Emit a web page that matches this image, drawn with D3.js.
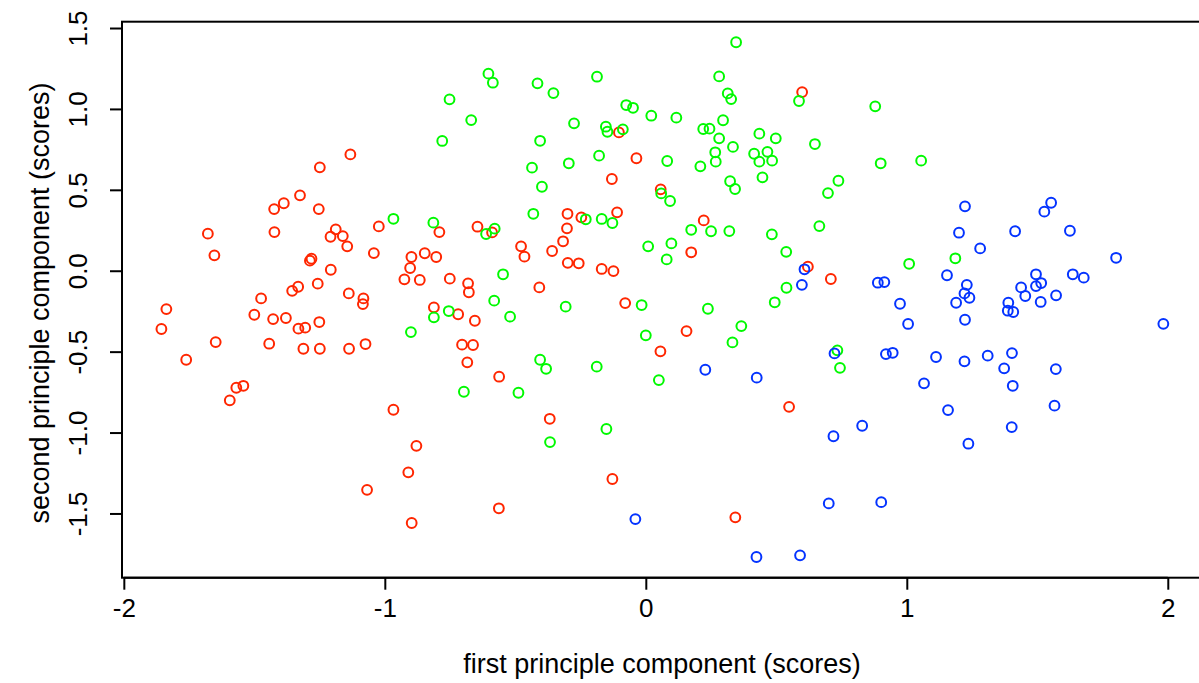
<!DOCTYPE html>
<html><head><meta charset="utf-8">
<script src="https://cdn.jsdelivr.net/npm/d3@7"></script>
<style>
html,body{margin:0;padding:0;background:#fff;}
svg{display:block;}
text{font-family:"Liberation Sans",Arial,Helvetica,sans-serif;fill:#000;}
</style></head>
<body>
<svg id="chart" width="1199" height="683"></svg>
<script>
// ---- data (first / second principal component scores) ----
const redX = [-1.132,-1.249,-1.325,-1.387,-1.424,-1.253,-1.678,-1.423,-1.023,-1.188,-1.208,-1.161,-1.144,-1.653,-1.042,-1.281,-1.287,-1.207,-1.257,-1.332,-1.355,-1.138,-1.474,-1.082,-1.084,-1.837,-1.856,-1.500,-1.428,-1.379,-1.331,-1.305,-1.251,-1.648,-1.443,-1.312,-1.249,-1.137,-1.074,-1.761,-1.569,-1.542,-1.594,-1.068,
 -0.103,-0.036,-0.130,-0.300,-0.247,-0.110,-0.791,-0.645,-0.589,-0.302,-0.317,-0.478,-0.465,-0.359,-0.299,-0.257,-0.169,-0.124,-0.898,-0.847,-0.803,-0.903,-0.925,-0.866,-0.751,-0.681,-0.678,-0.408,-0.812,-0.719,-0.655,-0.079,-0.704,-0.662,-0.684,-0.562,-0.967,-0.368,-0.879,-0.910,-0.128,-0.563,-0.897,
 0.599,0.057,0.222,0.174,0.621,0.709,0.156,0.056,0.549,0.343];
const redY = [0.719,0.639,0.466,0.417,0.381,0.381,0.229,0.239,0.274,0.256,0.210,0.214,0.151,0.095,0.109,0.074,0.062,0.006,-0.080,-0.099,-0.124,-0.140,-0.171,-0.171,-0.206,-0.237,-0.360,-0.272,-0.299,-0.292,-0.358,-0.352,-0.317,-0.441,-0.451,-0.482,-0.482,-0.482,-0.453,-0.550,-0.723,-0.711,-0.801,-1.354,
 0.855,0.695,0.567,0.352,0.330,0.361,0.239,0.272,0.237,0.262,0.182,0.151,0.087,0.122,0.049,0.046,0.011,-0.002,0.085,0.108,0.085,0.017,-0.053,-0.057,-0.049,-0.078,-0.133,-0.103,-0.226,-0.269,-0.309,-0.200,-0.457,-0.459,-0.566,-0.655,-0.859,-0.915,-1.082,-1.246,-1.287,-1.468,-1.559,
 1.104,0.503,0.311,0.114,0.025,-0.051,-0.373,-0.498,-0.841,-1.524];

const greenX = [-0.967,-0.814,-0.431,-0.579,-0.612,-0.230,-0.169,-0.128,0.009,-0.547,-0.581,-0.520,-0.307,-0.016,-0.812,-0.755,-0.900,0.000,-0.405,-0.382,-0.188,0.050,-0.697,-0.488,-0.151,-0.367,
 -0.603,-0.586,-0.752,-0.415,-0.354,-0.187,-0.669,-0.275,-0.075,-0.049,0.021,-0.780,-0.405,-0.153,-0.147,-0.088,-0.179,-0.295,-0.436,-0.398,
 0.346,0.281,0.314,0.327,0.587,0.879,0.117,0.296,0.220,0.244,0.281,0.435,0.498,0.334,0.266,0.268,0.209,0.415,0.466,0.435,0.484,0.447,0.648,0.900,1.055,0.738,0.698,0.323,0.342,0.059,0.093,0.082,
 0.174,0.250,0.320,0.483,0.665,0.098,0.080,0.538,1.009,0.539,0.494,0.238,0.366,0.332,0.734,0.744,1.186];
const greenY = [0.321,0.297,0.352,0.260,0.227,0.318,0.320,0.295,0.151,-0.022,-0.185,-0.284,-0.222,-0.212,-0.288,-0.249,-0.379,-0.399,-0.550,-0.606,-0.593,-0.676,-0.748,-0.754,-0.978,-1.059,
 1.218,1.162,1.059,1.158,1.098,1.199,0.931,0.911,1.024,1.007,0.958,0.802,0.803,0.890,0.859,0.874,0.711,0.664,0.637,0.519,
 1.412,1.201,1.096,1.061,1.049,1.016,0.946,0.930,0.876,0.878,0.818,0.847,0.818,0.765,0.732,0.674,0.645,0.723,0.735,0.674,0.680,0.577,0.783,0.664,0.680,0.556,0.480,0.553,0.505,0.478,0.431,0.678,
 0.253,0.244,0.245,0.225,0.276,0.169,0.070,0.117,0.043,-0.105,-0.195,-0.235,-0.342,-0.443,-0.492,-0.600,0.077];

const blueX = [-0.040,0.608,0.598,0.889,0.914,0.974,1.005,0.723,0.920,0.946,0.228,0.425,0.719,0.829,0.701,0.902,0.424,0.591,
 1.223,1.553,1.527,1.200,1.415,1.625,1.281,1.802,1.154,1.230,1.221,1.240,1.189,1.495,1.515,1.495,1.438,1.454,1.636,1.678,1.572,1.513,1.389,1.387,1.408,1.223,1.983,1.112,1.221,1.310,1.403,1.373,1.571,1.066,1.406,1.158,1.566,1.402,1.236];
const blueY = [-1.535,0.009,-0.087,-0.074,-0.070,-0.204,-0.329,-0.511,-0.515,-0.507,-0.612,-0.661,-1.023,-0.958,-1.438,-1.430,-1.769,-1.759,
 0.398,0.420,0.365,0.235,0.244,0.247,0.138,0.080,-0.028,-0.087,-0.140,-0.167,-0.198,-0.022,-0.076,-0.095,-0.103,-0.156,-0.022,-0.043,-0.152,-0.193,-0.198,-0.247,-0.255,-0.303,-0.328,-0.533,-0.560,-0.525,-0.509,-0.603,-0.608,-0.696,-0.711,-0.861,-0.834,-0.966,-1.069];

const xTicks = [-2, -1, 0, 1, 2];
const yTicks = [-1.5, -1.0, -0.5, 0.0, 0.5, 1.0, 1.5];
const xLabel = "first principle component (scores)";
const yLabel = "second principle component (scores)";

// ---- layout ----
const svg = d3.select("#chart");
const pL = 122, pR = 1202.5, pT = 21.7, pB = 577.7;
const x = d3.scaleLinear().domain([-2.007, 2.133]).range([pL, pR]);
const y = d3.scaleLinear().domain([-1.897, 1.539]).range([pB, pT]);
const FS = 26, TFS = 27;

const series = [
  {xs: redX, ys: redY, color: "#FF2600"},
  {xs: greenX, ys: greenY, color: "#00F900"},
  {xs: blueX, ys: blueY, color: "#0433FF"}
];

series.forEach(s => {
  svg.append("g").selectAll("circle")
    .data(d3.range(s.xs.length))
    .join("circle")
    .attr("cx", i => x(s.xs[i]))
    .attr("cy", i => y(s.ys[i]))
    .attr("r", 4.9)
    .attr("fill", "none")
    .attr("stroke", s.color)
    .attr("stroke-width", 2);
});

// box
svg.append("rect")
  .attr("x", pL).attr("y", pT)
  .attr("width", pR - pL).attr("height", pB - pT)
  .attr("fill", "none").attr("stroke", "#000").attr("stroke-width", 2);

// x axis
const xAxis = d3.axisBottom(x).tickValues(xTicks).tickSize(12).tickPadding(9)
  .tickFormat(d => d3.format("d")(d).replace("\u2212", "-"));
const gx = svg.append("g").attr("transform", `translate(0,${pB})`).call(xAxis);
gx.select(".domain").attr("d", `M${x(-2)},0H${x(2)}`).attr("stroke", "#000").attr("stroke-width", 2);
gx.selectAll(".tick line").attr("stroke", "#000").attr("stroke-width", 2);
gx.selectAll(".tick text").attr("font-size", FS).attr("font-family", '"Liberation Sans",Arial,sans-serif').attr("fill", "#000");

// y axis
const yAxis = d3.axisLeft(y).tickValues(yTicks).tickSize(12)
  .tickFormat(d => d3.format(".1f")(d).replace("\u2212", "-"));
const gy = svg.append("g").attr("transform", `translate(${pL},0)`).call(yAxis);
gy.select(".domain").attr("d", `M0,${y(-1.5)}V${y(1.5)}`).attr("stroke", "#000").attr("stroke-width", 2);
gy.selectAll(".tick line").attr("stroke", "#000").attr("stroke-width", 2);
gy.selectAll(".tick text")
  .attr("font-size", FS).attr("font-family", '"Liberation Sans",Arial,sans-serif').attr("fill", "#000")
  .attr("x", null).attr("dy", null)
  .attr("text-anchor", "middle")
  .attr("transform", "translate(-35,0) rotate(-90)");

// titles
svg.append("text")
  .attr("x", 662).attr("y", 673)
  .attr("text-anchor", "middle").attr("font-size", TFS)
  .text(xLabel);
svg.append("text")
  .attr("transform", `translate(49,303) rotate(-90)`)
  .attr("text-anchor", "middle").attr("font-size", TFS)
  .text(yLabel);
</script>
</body></html>
